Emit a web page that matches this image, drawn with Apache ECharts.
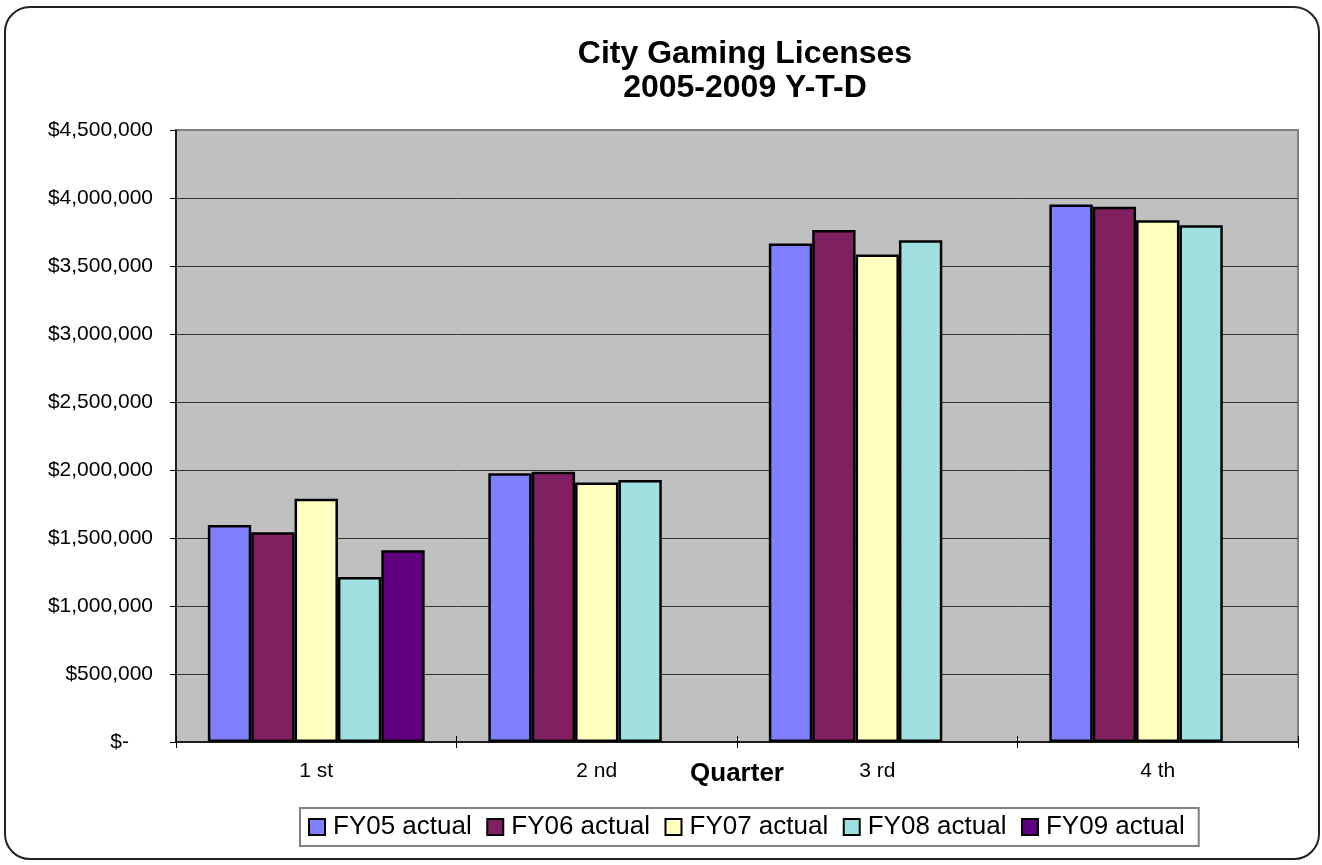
<!DOCTYPE html>
<html>
<head>
<meta charset="utf-8">
<script src="https://cdn.jsdelivr.net/npm/echarts@6/dist/echarts.min.js"></script>
<style>
  html, body { margin: 0; padding: 0; background: #fff; }
  #chart { width: 1322px; height: 865px; }
</style>
</head>
<body>
<div id="chart"></div>
<script>
var quarters = ["1 st", "2 nd", "3 rd", "4 th"];
var seriesNames = ["FY05 actual", "FY06 actual", "FY07 actual", "FY08 actual", "FY09 actual"];
var fy05 = [1595000, 1977000, 3666000, 3952000];
var fy06 = [1542000, 1987000, 3764000, 3935000];
var fy07 = [1789000, 1909000, 3585000, 3837000];
var fy08 = [1214000, 1926000, 3690000, 3800000];
var fy09 = [1410000, null, null, null];
var yTicks = [0, 500000, 1000000, 1500000, 2000000, 2500000, 3000000, 3500000, 4000000, 4500000];

var colors = ["#8080FF", "#802060", "#FFFFC0", "#A0E0E0", "#600080"];
var font = "Liberation Sans, Arial, sans-serif";

var chart = echarts.init(document.getElementById("chart"));

function money(v) {
    if (v === 0) return "{z|$-}";
    return "$" + v.toString().replace(/\B(?=(\d{3})+(?!\d))/g, ",");
}

var option = {
    animation: false,
    color: colors,
    textStyle: { fontFamily: font },
    title: {
        text: "City Gaming Licenses\n2005-2009 Y-T-D",
        left: 745,
        top: 37,
        padding: 0,
        textAlign: "center",
        textStyle: {
            fontFamily: font,
            fontSize: 32,
            fontWeight: "bold",
            color: "#000",
            lineHeight: 34
        }
    },
    graphic: [{
        type: "rect",
        shape: { x: 5, y: 7, width: 1314, height: 852, r: 25 },
        style: { fill: null, stroke: "#222", lineWidth: 2 },
        silent: true,
        z: -1
    }],
    legend: {
        data: seriesNames,
        left: 300,
        top: 808,
        orient: "horizontal",
        padding: [6, 14, 6, 8],
        itemGap: 14.5,
        itemWidth: 16,
        itemHeight: 16,
        icon: "rect",
        borderColor: "#808080",
        borderWidth: 2,
        backgroundColor: "#fff",
        textStyle: {
            fontFamily: font,
            fontSize: 26,
            color: "#000",
            padding: [0, 0, 0, 3]
        }
    },
    grid: {
        left: 176,
        right: 24,
        top: 130,
        bottom: 123,
        show: true,
        backgroundColor: "#C0C0C0",
        borderColor: "#808080",
        borderWidth: 2
    },
    xAxis: [{
        type: "category",
        data: quarters,
        position: "bottom",
        name: "Quarter",
        nameLocation: "middle",
        nameGap: 19,
        nameMoveOverlap: false,
        nameTextStyle: {
            fontFamily: font,
            fontSize: 26,
            fontWeight: "bold",
            color: "#000",
            verticalAlign: "top"
        },
        axisLine: { lineStyle: { color: "#000", width: 1.5 } },
        axisTick: { show: true, inside: false, length: 6, lineStyle: { color: "#000" } },
        axisLabel: {
            margin: 19,
            fontFamily: font,
            fontSize: 21,
            color: "#000"
        },
        splitLine: { show: false }
    }, {
        type: "category",
        data: quarters,
        position: "bottom",
        axisLine: { show: false },
        axisTick: { show: true, inside: true, length: 6, lineStyle: { color: "#000" } },
        axisLabel: { show: false },
        splitLine: { show: false }
    }],
    yAxis: {
        type: "value",
        min: yTicks[0],
        max: yTicks[yTicks.length - 1],
        interval: yTicks[1] - yTicks[0],
        axisLine: { show: true, lineStyle: { color: "#000", width: 1.5 } },
        axisTick: { show: true, inside: false, length: 6, lineStyle: { color: "#000" } },
        axisLabel: {
            margin: 23,
            fontFamily: font,
            fontSize: 21,
            color: "#000",
            formatter: money,
            rich: {
                z: { fontFamily: font, fontSize: 21, color: "#000", padding: [0, 24, 0, 0] }
            }
        },
        splitLine: {
            show: true,
            showMinLine: false,
            showMaxLine: false,
            lineStyle: { color: "#333", width: 1 }
        }
    },
    series: [fy05, fy06, fy07, fy08, fy09].map(function (vals, i) {
        return {
            name: seriesNames[i],
            type: "bar",
            data: vals,
            barGap: "0%",
            barCategoryGap: "22.7%",
            itemStyle: {
                color: colors[i],
                borderColor: "#000",
                borderWidth: 2.5
            }
        };
    })
};

chart.setOption(option);
</script>
</body>
</html>
